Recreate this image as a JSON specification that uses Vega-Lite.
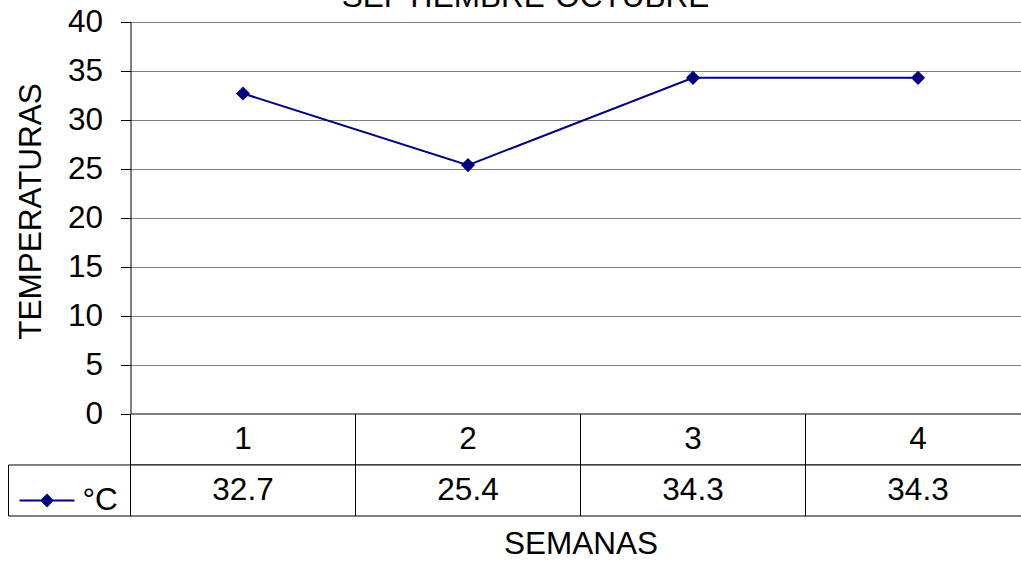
{
  "$schema": "https://vega.github.io/schema/vega-lite/v6.json",
  "autosize": {"type": "pad"},
  "padding": {"left": 7.5, "top": -18, "right": 0, "bottom": 0},
  "background": "white",
  "title": {"text": "SEPTIEMBRE-OCTUBRE", "fontSize": 31.5, "fontWeight": "normal", "font": "Liberation Sans", "color": "black", "anchor": "middle", "dx": 6, "dy": 40.5, "offset": 8, "baseline": "alphabetic"},
  "datasets": {
    "temps": [
      {"semana": "1", "temp": 32.7, "serie": "°C"},
      {"semana": "2", "temp": 25.4, "serie": "°C"},
      {"semana": "3", "temp": 34.3, "serie": "°C"},
      {"semana": "4", "temp": 34.3, "serie": "°C"}
    ]
  },
  "columns": 2,
  "spacing": 0,
  "bounds": "flush",
  "concat": [
    {
      "width": 122, "height": 392,
      "data": {"values": [{}]},
      "mark": {"type": "text"},
      "encoding": {"text": {"value": ""}}
    },
    {
      "width": 900, "height": 392,
      "data": {"name": "temps"},
      "encoding": {
        "x": {"field": "semana", "type": "ordinal", "scale": {"type": "point", "padding": 0.5}, "axis": null},
        "y": {"field": "temp", "type": "quantitative", "scale": {"domain": [0, 40], "nice": false},
          "axis": {"values": [0, 5, 10, 15, 20, 25, 30, 35, 40], "grid": true, "gridColor": "#808080", "gridWidth": 1, "domainColor": "black", "domainWidth": 1, "tickColor": "black", "tickSize": 10, "tickWidth": 1, "labelFontSize": 31.5, "labelColor": "black", "labelPadding": 18, "labelFont": "Liberation Sans", "title": "TEMPERATURAS", "titleFontSize": 31.5, "titleFontWeight": "normal", "titleColor": "black", "titleFont": "Liberation Sans", "titleAngle": 270, "titleBaseline": "alphabetic", "titleAlign": "center", "titleX": -90, "titleY": 189}},
        "color": {"field": "serie", "type": "nominal", "scale": {"range": ["#000080"]},
          "legend": {"orient": "none", "legendX": 10, "legendY": 450, "title": null, "padding": 0, "symbolType": "M-1,0H1M-0.2,0L0,-0.2L0.2,0L0,0.2Z", "symbolSize": 3025, "labelFontSize": 31.5, "labelColor": "black", "labelFont": "Liberation Sans", "labelOffset": 7, "symbolStrokeWidth": 2,
            "encode": {"symbols": {"update": {"fill": {"value": "#000080"}, "stroke": {"value": "#000080"}, "strokeWidth": {"value": 2}, "opacity": {"value": 1}}}}}}
      },
      "layer": [
        {"mark": {"type": "line", "strokeWidth": 2}},
        {"mark": {"type": "point", "shape": "diamond", "filled": true, "size": 200, "opacity": 1}}
      ]
    },
    {
      "width": 122, "height": 102,
      "data": {"values": [{"fila": "val"}]},
      "mark": {"type": "rect", "fill": "white", "stroke": "black", "strokeWidth": 1},
      "encoding": {"y": {"field": "fila", "type": "nominal", "scale": {"domain": ["cat", "val"], "paddingInner": 0, "paddingOuter": 0}, "axis": null}}
    },
    {
      "width": 900, "height": 102,
      "data": {"name": "temps"},
      "encoding": {
        "x": {"field": "semana", "type": "ordinal", "scale": {"type": "band", "paddingInner": 0, "paddingOuter": 0},
          "axis": {"labels": false, "ticks": false, "domain": false, "grid": false, "title": "SEMANAS", "titleFontSize": 31.5, "titleFontWeight": "normal", "titleColor": "black", "titleFont": "Liberation Sans", "titleBaseline": "alphabetic", "titleY": 37}}
      },
      "layer": [
        {"mark": {"type": "rect", "fill": "white", "stroke": "black", "strokeWidth": 1},
          "encoding": {"y": {"datum": "cat", "type": "nominal", "scale": {"domain": ["cat", "val"], "paddingInner": 0, "paddingOuter": 0}, "axis": null}}},
        {"mark": {"type": "rect", "fill": "white", "stroke": "black", "strokeWidth": 1},
          "encoding": {"y": {"datum": "val", "type": "nominal"}}},
        {"mark": {"type": "text", "fontSize": 31.5, "font": "Liberation Sans", "color": "black", "baseline": "middle"},
          "encoding": {"y": {"datum": "cat", "type": "nominal"}, "text": {"field": "semana"}}},
        {"mark": {"type": "text", "fontSize": 31.5, "font": "Liberation Sans", "color": "black", "baseline": "middle"},
          "encoding": {"y": {"datum": "val", "type": "nominal"}, "text": {"field": "temp", "type": "quantitative", "format": ".1f"}}}
      ]
    }
  ],
  "config": {"view": {"stroke": null}, "font": "Liberation Sans"}
}
